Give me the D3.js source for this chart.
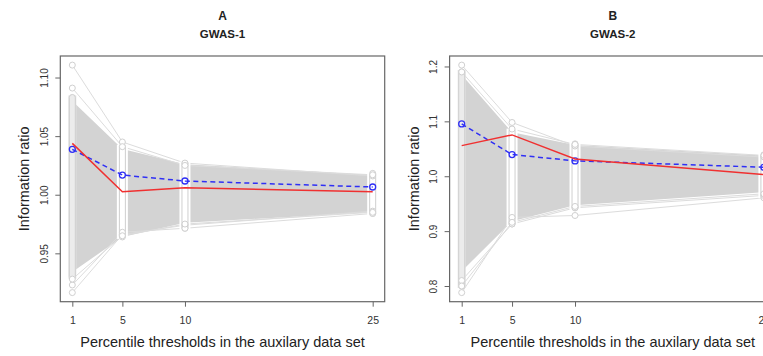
<!DOCTYPE html>
<html>
<head>
<meta charset="utf-8">
<script src="https://cdn.jsdelivr.net/npm/d3@7"></script>
<style>
  body { margin: 0; background: #fff; }
  svg { display: block; font-family: "Liberation Sans", Arial, sans-serif; }
</style>
</head>
<body>
<svg id="chart" width="763" height="356"></svg>
<script>
// percentile thresholds (x)
const thresholds = [1, 5, 10, 25];
const xTickLabels = ['1', '5', '10', '25'];

// GWAS-1 (panel A)
const gwas1Observed = [1.0438, 1.0026, 1.0060, 1.0026];   // red
const gwas1Expected = [1.0387, 1.0168, 1.0117, 1.0066];   // blue dashed
const gwas1CoreUpper = [1.080, 1.039, 1.026, 1.0168];
const gwas1CoreLower = [0.934, 0.964, 0.976, 0.985];
const gwas1ColMax = [1.083, 1.041, 1.0267, 1.0182];
const gwas1ColMin = [0.930, 0.964, 0.9714, 0.9841];
const gwas1Outliers = [
  [1.1106, 1.045, 1.027, 1.016],
  [1.0910, 1.041, 1.025, 1.017],
  [0.9165, 0.966, 0.974, 0.986],
  [0.9230, 0.968, 0.9714, 0.984],
  [0.9280, 0.965, 0.975, 0.985]
];
const gwas1YTicks = [0.95, 1.00, 1.05, 1.10];

// GWAS-2 (panel B)
const gwas2Observed = [1.0558, 1.0753, 1.0316, 1.0030];
const gwas2Expected = [1.0953, 1.0395, 1.0280, 1.0164];
const gwas2CoreUpper = [1.185, 1.080, 1.057, 1.0376];
const gwas2CoreLower = [0.827, 0.918, 0.947, 0.971];
const gwas2ColMax = [1.190, 1.083, 1.059, 1.039];
const gwas2ColMin = [0.800, 0.913, 0.9425, 0.9636];
const gwas2Outliers = [
  [1.2025, 1.098, 1.055, 1.035],
  [1.1900, 1.086, 1.058, 1.038],
  [0.7880, 0.925, 0.9285, 0.9607],
  [0.8100, 0.913, 0.9425, 0.965],
  [0.8000, 0.916, 0.945, 0.968]
];
const gwas2YTicks = [0.8, 0.9, 1.0, 1.1, 1.2];

const svg = d3.select('#chart');
const plotTop = 56, plotBottom = 301.7;

function rangeR(lo, hi) {
  // R style 4% axis expansion
  const p = (hi - lo) * 0.04;
  return [lo - p, hi + p];
}

function drawPanel(opt) {
  const x = d3.scaleLinear()
    .domain(rangeR(d3.min(thresholds), d3.max(thresholds)))
    .range([opt.left, opt.right]);
  const allVals = opt.outliers.flat().concat(opt.colMin, opt.colMax);
  const y = d3.scaleLinear()
    .domain(rangeR(d3.min(allVals), d3.max(allVals)))
    .range([plotBottom, plotTop]);

  const g = svg.append('g');

  // dense cloud of null lines
  const area = d3.area()
    .x((d, i) => x(thresholds[i]))
    .y0((d, i) => y(opt.coreLower[i]))
    .y1(d => y(d));
  g.append('path')
    .datum(opt.coreUpper)
    .attr('d', area)
    .attr('fill', '#d3d3d3');

  const line = d3.line().x((d, i) => x(thresholds[i])).y(d => y(d));

  g.selectAll('.outlier')
    .data(opt.outliers)
    .join('path')
    .attr('class', 'outlier')
    .attr('d', line)
    .attr('fill', 'none')
    .attr('stroke', '#dcdcdc')
    .attr('stroke-width', 1);

  // gaps around the stacked points (type = "b")
  g.selectAll('.gap')
    .data(thresholds)
    .join('rect')
    .attr('class', 'gap')
    .attr('x', (d, i) => x(d) - (i === 0 ? 4 : 5.5))
    .attr('width', (d, i) => i === 0 ? 8 : 11)
    .attr('y', (d, i) => y(opt.colMax[i]) - 2)
    .attr('height', (d, i) => y(opt.colMin[i]) - y(opt.colMax[i]) + 4)
    .attr('fill', (d, i) => i === 0 ? '#e4e4e4' : '#fff');

  g.selectAll('.col')
    .data(thresholds)
    .join('rect')
    .attr('class', 'col')
    .attr('x', d => x(d) - 3)
    .attr('width', 6)
    .attr('y', (d, i) => y(opt.colMax[i]) - 3)
    .attr('height', (d, i) => y(opt.colMin[i]) - y(opt.colMax[i]) + 6)
    .attr('rx', 3)
    .attr('fill', (d, i) => i === 0 ? '#ececec' : '#fff')
    .attr('stroke', '#cfcfcf')
    .attr('stroke-width', 1);

  // outlier points
  const pts = [];
  opt.outliers.forEach(s => s.forEach((v, i) => pts.push([thresholds[i], v])));
  g.selectAll('.opt')
    .data(pts)
    .join('circle')
    .attr('class', 'opt')
    .attr('cx', d => x(d[0]))
    .attr('cy', d => y(d[1]))
    .attr('r', 3)
    .attr('fill', '#fff')
    .attr('stroke', '#d0d0d0');

  // expected (blue dashed with points)
  g.append('path')
    .datum(opt.expected)
    .attr('d', line)
    .attr('fill', 'none')
    .attr('stroke', '#2f2ff5')
    .attr('stroke-width', 1.5)
    .attr('stroke-dasharray', '5,3.5');
  g.selectAll('.ept')
    .data(opt.expected)
    .join('circle')
    .attr('class', 'ept')
    .attr('cx', (d, i) => x(thresholds[i]))
    .attr('cy', d => y(d))
    .attr('r', 3)
    .attr('fill', 'none')
    .attr('stroke', '#2f2ff5')
    .attr('stroke-width', 1.3);

  // observed (red)
  g.append('path')
    .datum(opt.observed)
    .attr('d', line)
    .attr('fill', 'none')
    .attr('stroke', '#f03030')
    .attr('stroke-width', 1.5);

  // box
  g.append('rect')
    .attr('x', opt.left).attr('y', plotTop)
    .attr('width', opt.right - opt.left).attr('height', plotBottom - plotTop)
    .attr('fill', 'none').attr('stroke', '#666').attr('stroke-width', 1.2);

  // axes
  const xa = g.append('g')
    .attr('transform', `translate(0,${plotBottom})`)
    .call(d3.axisBottom(x).tickValues(thresholds)
      .tickFormat((d, i) => xTickLabels[i]).tickSize(5).tickPadding(10));
  xa.select('.domain').remove();
  xa.selectAll('line').attr('stroke', '#666');
  xa.selectAll('text').attr('fill', '#333').style('font-size', '10.5px');

  const ya = g.append('g')
    .attr('transform', `translate(${opt.left},0)`)
    .call(d3.axisLeft(y).tickValues(opt.yTicks)
      .tickFormat(d3.format(opt.fmt)).tickSize(5));
  ya.select('.domain').remove();
  ya.selectAll('line').attr('stroke', '#666');
  ya.selectAll('text')
    .attr('x', 0).attr('dy', '0.35em')
    .attr('text-anchor', 'middle')
    .attr('transform', 'translate(-16,0) rotate(-90)')
    .attr('fill', '#333').style('font-size', '10px');

  // titles
  const cx = (opt.left + opt.right) / 2;
  g.append('text').attr('x', cx).attr('y', 20)
    .attr('text-anchor', 'middle').attr('font-weight', 'bold')
    .style('font-size', '12px').attr('fill', '#222').text(opt.title);
  g.append('text').attr('x', cx).attr('y', 37.7)
    .attr('text-anchor', 'middle').attr('font-weight', 'bold')
    .style('font-size', '11.5px').attr('fill', '#222').text(opt.subtitle);

  g.append('text')
    .attr('x', x(13)).attr('y', 346.7)
    .attr('text-anchor', 'middle')
    .style('font-size', '14.5px').attr('fill', '#222')
    .text('Percentile thresholds in the auxilary data set');

  g.append('text')
    .attr('transform', `translate(${opt.left - 36},${(plotTop + plotBottom) / 2}) rotate(-90)`)
    .attr('dy', '0.35em')
    .attr('text-anchor', 'middle')
    .style('font-size', '14.5px').attr('fill', '#222')
    .text('Information ratio');
}

drawPanel({
  left: 60.3, right: 384.7, title: 'A', subtitle: 'GWAS-1', fmt: '.2f',
  observed: gwas1Observed, expected: gwas1Expected,
  coreUpper: gwas1CoreUpper, coreLower: gwas1CoreLower,
  colMax: gwas1ColMax, colMin: gwas1ColMin,
  outliers: gwas1Outliers, yTicks: gwas1YTicks
});
drawPanel({
  left: 449.6, right: 776, title: 'B', subtitle: 'GWAS-2', fmt: '.1f',
  observed: gwas2Observed, expected: gwas2Expected,
  coreUpper: gwas2CoreUpper, coreLower: gwas2CoreLower,
  colMax: gwas2ColMax, colMin: gwas2ColMin,
  outliers: gwas2Outliers, yTicks: gwas2YTicks
});
</script>
</body>
</html>
